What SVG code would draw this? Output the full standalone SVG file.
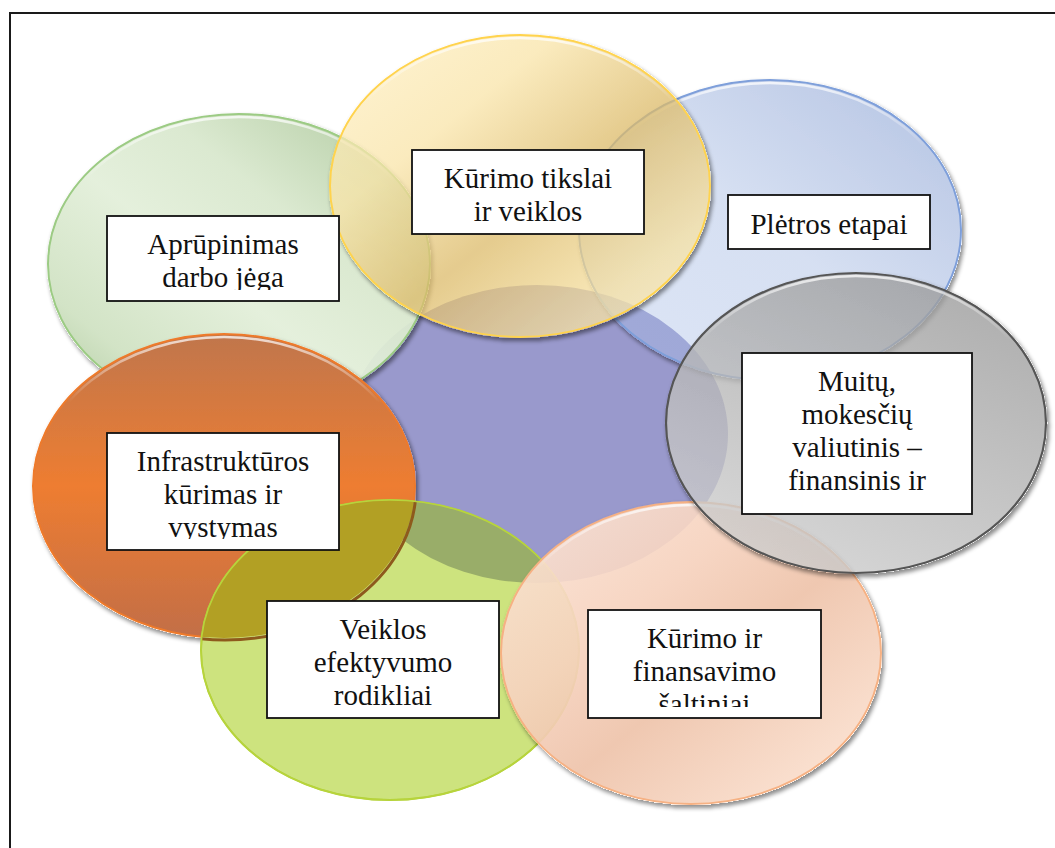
<svg xmlns="http://www.w3.org/2000/svg" width="1055" height="848" viewBox="0 0 1055 848">
<style>
.box{fill:#ffffff;stroke:#111111;stroke-width:1.8}
.t{font-family:"Liberation Serif","Times New Roman","DejaVu Serif",serif;font-size:29px;fill:#111111;text-anchor:middle}
.hl{fill:none;stroke:url(#gHl);stroke-width:2.5}
</style>
<defs>
<filter id="sh" x="-10%" y="-10%" width="125%" height="130%">
  <feComponentTransfer in="SourceAlpha" result="a"><feFuncA type="linear" slope="20"/></feComponentTransfer>
  <feGaussianBlur in="a" stdDeviation="2" result="b"/>
  <feOffset in="b" dx="2" dy="3" result="o"/>
  <feFlood flood-color="#000000" flood-opacity="0.45"/>
  <feComposite in2="o" operator="in" result="s"/>
  <feComposite in="s" in2="a" operator="out" result="s2"/>
  <feMerge><feMergeNode in="s2"/><feMergeNode in="SourceGraphic"/></feMerge>
</filter>
<linearGradient id="gHl" x1="0" y1="0" x2="0" y2="1">
  <stop offset="0" stop-color="#ffffff" stop-opacity="0.75"/>
  <stop offset="0.22" stop-color="#ffffff" stop-opacity="0"/>
</linearGradient>
<linearGradient id="gGreen" x1="1" y1="0" x2="0" y2="1">
  <stop offset="0" stop-color="#A9C597"/>
  <stop offset="0.35" stop-color="#D9E8CE"/>
  <stop offset="0.55" stop-color="#E3EFDA"/>
  <stop offset="0.8" stop-color="#D0E2C3"/>
  <stop offset="1" stop-color="#A7C495"/>
</linearGradient>
<linearGradient id="gYellow" x1="0" y1="0" x2="1" y2="1">
  <stop offset="0" stop-color="#FFF1C6"/>
  <stop offset="0.3" stop-color="#F9E4A8"/>
  <stop offset="0.55" stop-color="#DCBA68"/>
  <stop offset="0.8" stop-color="#F6E0A0"/>
  <stop offset="1" stop-color="#FFF1C6"/>
</linearGradient>
<linearGradient id="gBlue" x1="1" y1="0" x2="0" y2="1">
  <stop offset="0" stop-color="#4A6EBA"/>
  <stop offset="0.5" stop-color="#9DB4E0"/>
  <stop offset="1" stop-color="#AFC3EA"/>
</linearGradient>
<linearGradient id="gGrey" x1="0.8" y1="0" x2="0.2" y2="1">
  <stop offset="0" stop-color="#999999"/>
  <stop offset="0.5" stop-color="#B5B5B5"/>
  <stop offset="1" stop-color="#D0D0D0"/>
</linearGradient>
<linearGradient id="gPeach" x1="0" y1="0" x2="1" y2="1">
  <stop offset="0" stop-color="#FCE6D8"/>
  <stop offset="0.35" stop-color="#F6D2BE"/>
  <stop offset="0.55" stop-color="#EEC3AA"/>
  <stop offset="0.85" stop-color="#F9DCCA"/>
  <stop offset="1" stop-color="#FBE3D4"/>
</linearGradient>
<linearGradient id="gOrange" x1="0" y1="0" x2="0" y2="1">
  <stop offset="0" stop-color="#C0764C"/>
  <stop offset="0.5" stop-color="#EE7D31"/>
  <stop offset="1" stop-color="#C26E47"/>
</linearGradient>
<clipPath id="cOr"><ellipse cx="224" cy="486" rx="191" ry="152"/></clipPath>
<clipPath id="cPu"><ellipse cx="537" cy="434" rx="191" ry="149"/></clipPath>
<clipPath id="cLg"><ellipse cx="390" cy="650" rx="189" ry="150"/></clipPath>
<clipPath id="k1"><rect x="107" y="216" width="232" height="74"/></clipPath>
<clipPath id="k2"><rect x="412" y="150" width="232" height="73"/></clipPath>
<clipPath id="k3"><rect x="728" y="195" width="202" height="50"/></clipPath>
<clipPath id="k4"><rect x="742" y="353" width="230" height="150"/></clipPath>
<clipPath id="k5"><rect x="588" y="610" width="233" height="97"/></clipPath>
<clipPath id="k6"><rect x="267" y="601" width="232" height="106"/></clipPath>
<clipPath id="k7"><rect x="107" y="433" width="232" height="106"/></clipPath>
</defs>

<rect id="frame" x="10" y="13" width="1070" height="870" fill="none" stroke="#1a1a1a" stroke-width="2"/>

<g id="center">
  <ellipse cx="537" cy="434" rx="191" ry="149" fill="#9999CC"/>
</g>

<g id="ell-green" filter="url(#sh)">
  <ellipse cx="239" cy="264" rx="191" ry="150" fill="url(#gGreen)" fill-opacity="0.95" stroke="#9CCB84" stroke-width="2"/>
  <ellipse class="hl" cx="239" cy="264" rx="188" ry="147"/>
</g>
<g id="ell-blue" filter="url(#sh)">
  <ellipse cx="770" cy="230" rx="191" ry="150" fill="url(#gBlue)" fill-opacity="0.42" stroke="#7E9FDA" stroke-width="2"/>
  <ellipse class="hl" cx="770" cy="230" rx="188" ry="147"/>
</g>
<g id="ell-yellow" filter="url(#sh)">
  <ellipse cx="520" cy="186" rx="190" ry="151" fill="url(#gYellow)" fill-opacity="0.75" stroke="#FFD34E" stroke-width="2"/>
  <ellipse class="hl" cx="520" cy="186" rx="187" ry="148"/>
</g>
<g id="ell-orange" filter="url(#sh)">
  <ellipse cx="224" cy="486" rx="191" ry="152" fill="url(#gOrange)" stroke="#EE7A2C" stroke-width="2"/>
  <ellipse class="hl" cx="224" cy="486" rx="188" ry="149"/>
</g>
<g id="ell-lightgreen">
  <ellipse cx="390" cy="650" rx="189" ry="150" fill="#CDE37E" stroke="#B2D23A" stroke-width="2"/>
  <ellipse cx="390" cy="650" rx="189" ry="150" fill="#99AD69" clip-path="url(#cPu)"/>
  <ellipse cx="390" cy="650" rx="189" ry="150" fill="#B2A024" clip-path="url(#cOr)"/>
  <g clip-path="url(#cLg)">
    <ellipse cx="225" cy="488" rx="191" ry="152" fill="none" stroke="#8E5A1C" stroke-width="3"/>
  </g>
  <ellipse cx="390" cy="650" rx="189" ry="150" fill="none" stroke="#B8D43C" stroke-width="1.5"/>
</g>
<g id="ell-peach" filter="url(#sh)">
  <ellipse cx="691" cy="653" rx="190" ry="151" fill="url(#gPeach)" fill-opacity="0.92" stroke="#F6B183" stroke-width="2"/>
  <ellipse class="hl" cx="691" cy="653" rx="187" ry="148"/>
</g>
<g id="ell-grey" filter="url(#sh)">
  <ellipse cx="856" cy="423" rx="190" ry="150" fill="url(#gGrey)" fill-opacity="0.8" stroke="#555555" stroke-width="2.2"/>
  <ellipse class="hl" cx="856" cy="423" rx="187" ry="147"/>
</g>

<g id="node-aprupinimas">
  <rect class="box" x="107" y="216" width="232" height="85"/>
  <g clip-path="url(#k1)">
    <text class="t" x="223" y="254">Aprūpinimas</text>
    <text class="t" x="223" y="287">darbo jėga</text>
  </g>
</g>
<g id="node-kurimo-tikslai">
  <rect class="box" x="412" y="150" width="232" height="84"/>
  <g clip-path="url(#k2)">
    <text class="t" x="528" y="188">Kūrimo tikslai</text>
    <text class="t" x="528" y="221">ir veiklos</text>
  </g>
</g>
<g id="node-pletros">
  <rect class="box" x="728" y="195" width="202" height="54"/>
  <g clip-path="url(#k3)">
    <text class="t" x="829" y="234">Plėtros etapai</text>
  </g>
</g>
<g id="node-muitu">
  <rect class="box" x="742" y="353" width="230" height="161"/>
  <g clip-path="url(#k4)">
    <text class="t" x="857" y="391">Muitų,</text>
    <text class="t" x="857" y="424">mokesčių</text>
    <text class="t" x="857" y="457">valiutinis –</text>
    <text class="t" x="857" y="490">finansinis ir</text>
  </g>
</g>
<g id="node-kurimo-ir">
  <rect class="box" x="588" y="610" width="233" height="108"/>
  <g clip-path="url(#k5)">
    <text class="t" x="704.5" y="648">Kūrimo ir</text>
    <text class="t" x="704.5" y="681">finansavimo</text>
    <text class="t" x="704.5" y="714">šaltiniai</text>
  </g>
</g>
<g id="node-veiklos">
  <rect class="box" x="267" y="601" width="232" height="117"/>
  <g clip-path="url(#k6)">
    <text class="t" x="383" y="639">Veiklos</text>
    <text class="t" x="383" y="672">efektyvumo</text>
    <text class="t" x="383" y="705">rodikliai</text>
  </g>
</g>
<g id="node-infrastrukturos">
  <rect class="box" x="107" y="433" width="232" height="117"/>
  <g clip-path="url(#k7)">
    <text class="t" x="223" y="471">Infrastruktūros</text>
    <text class="t" x="223" y="504">kūrimas ir</text>
    <text class="t" x="223" y="537">vystymas</text>
  </g>
</g>
<g id="connectors"/>
</svg>
